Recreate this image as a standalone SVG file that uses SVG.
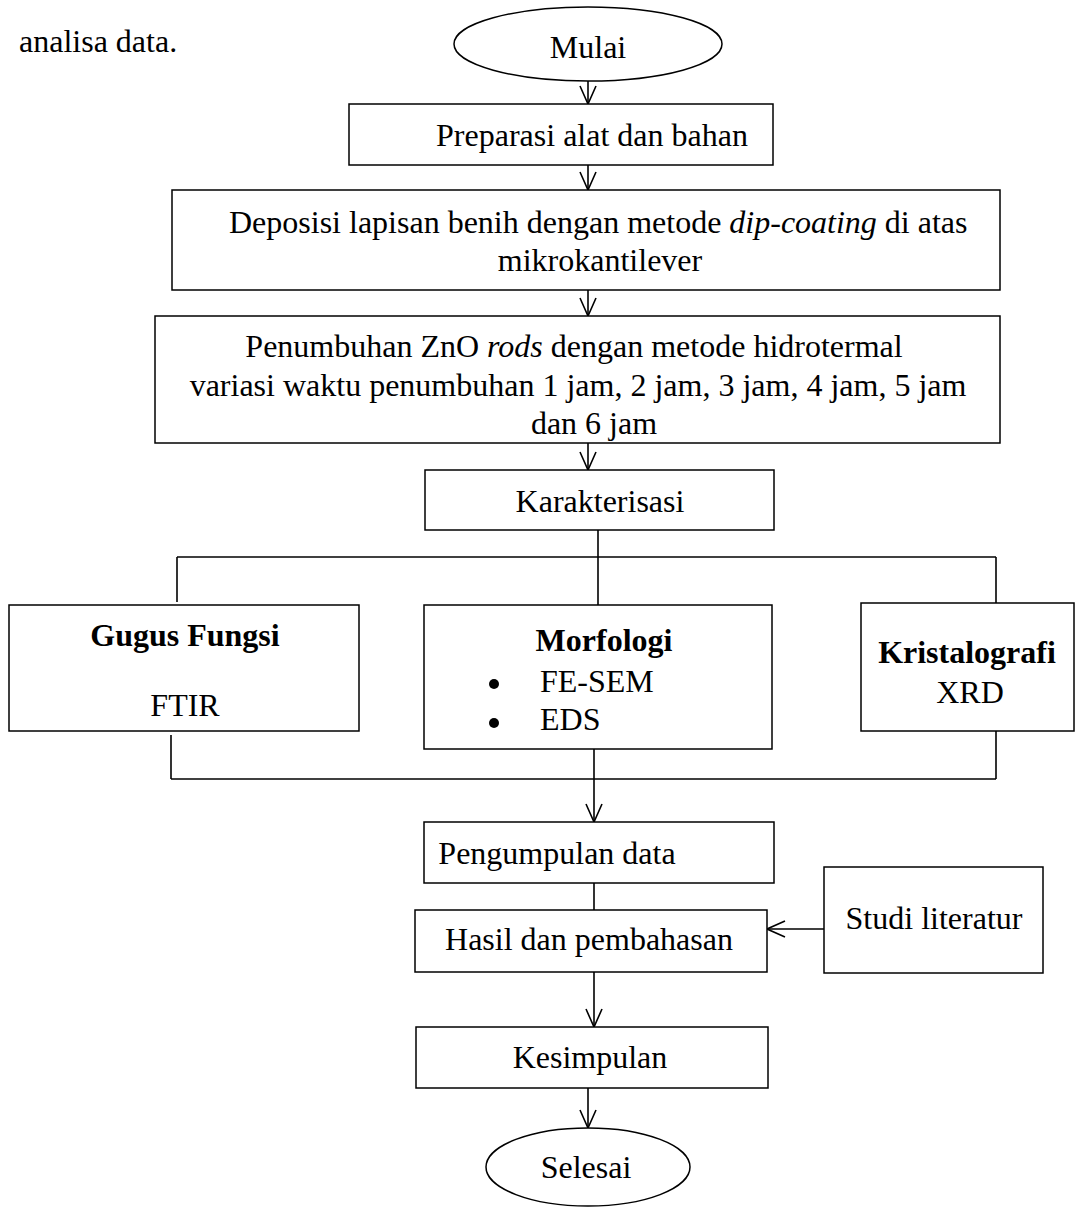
<svg xmlns="http://www.w3.org/2000/svg" width="1080" height="1207" viewBox="0 0 1080 1207">
  <defs>
    <style>
      .box { fill: #ffffff; stroke: #000000; stroke-width: 1.5; }
      .line { fill: none; stroke: #000000; stroke-width: 1.6; }
      text { font-family: "Liberation Serif", "Times New Roman", serif; font-size: 32px; fill: #000000; }
      .c { text-anchor: middle; }
      .b { font-weight: bold; }
      .i { font-style: italic; }
    </style>
    <marker id="open-arrow" viewBox="0 0 20 20" refX="19" refY="10" markerWidth="20" markerHeight="20" markerUnits="userSpaceOnUse" orient="auto">
      <path d="M1,2 L19,10 L1,18" fill="none" stroke="#000000" stroke-width="1.6"/>
    </marker>
  </defs>
  <rect width="1080" height="1207" fill="#ffffff"/>

  <text x="19" y="52">analisa data.</text>

  <g id="connectors">
    <line class="line" x1="588" y1="81" x2="588" y2="104" marker-end="url(#open-arrow)"/>
    <line class="line" x1="588" y1="165" x2="588" y2="190" marker-end="url(#open-arrow)"/>
    <line class="line" x1="588" y1="290" x2="588" y2="316" marker-end="url(#open-arrow)"/>
    <line class="line" x1="588" y1="443" x2="588" y2="470" marker-end="url(#open-arrow)"/>
    <!-- split to the three characterisation methods -->
    <line class="line" x1="598" y1="530" x2="598" y2="605"/>
    <line class="line" x1="177" y1="557" x2="996" y2="557"/>
    <line class="line" x1="177" y1="557" x2="177" y2="602"/>
    <line class="line" x1="996" y1="557" x2="996" y2="603"/>
    <!-- merge back -->
    <line class="line" x1="171" y1="735" x2="171" y2="779"/>
    <line class="line" x1="171" y1="779" x2="996" y2="779"/>
    <line class="line" x1="996" y1="731" x2="996" y2="779"/>
    <line class="line" x1="594" y1="749" x2="594" y2="822" marker-end="url(#open-arrow)"/>
    <line class="line" x1="594" y1="883" x2="594" y2="910"/>
    <line class="line" x1="824" y1="929" x2="767" y2="929" marker-end="url(#open-arrow)"/>
    <line class="line" x1="594" y1="972" x2="594" y2="1027" marker-end="url(#open-arrow)"/>
    <line class="line" x1="588" y1="1088" x2="588" y2="1128" marker-end="url(#open-arrow)"/>
  </g>

  <g id="mulai">
    <ellipse class="box" cx="588" cy="44" rx="134" ry="37"/>
    <text class="c" x="588" y="58">Mulai</text>
  </g>

  <g id="preparasi">
    <rect class="box" x="349" y="104" width="424" height="61"/>
    <text class="c" x="592" y="146">Preparasi alat dan bahan</text>
  </g>

  <g id="deposisi">
    <rect class="box" x="172" y="190" width="828" height="100"/>
    <text x="229" y="233">Deposisi lapisan benih dengan metode <tspan class="i">dip-coating</tspan>  di atas</text>
    <text class="c" x="600" y="271">mikrokantilever</text>
  </g>

  <g id="penumbuhan">
    <rect class="box" x="155" y="316" width="845" height="127"/>
    <text class="c" x="574" y="357">Penumbuhan ZnO <tspan class="i">rods</tspan> dengan metode hidrotermal</text>
    <text class="c" x="578" y="396">variasi waktu penumbuhan 1 jam, 2 jam, 3 jam, 4 jam, 5 jam</text>
    <text class="c" x="594" y="434">dan 6 jam</text>
  </g>

  <g id="karakterisasi">
    <rect class="box" x="425" y="470" width="349" height="60"/>
    <text class="c" x="600" y="512">Karakterisasi</text>
  </g>

  <g id="gugus-fungsi">
    <rect class="box" x="9" y="605" width="350" height="126"/>
    <text class="c" x="185" y="716">FTIR</text>
    <text class="c b" x="185" y="646">Gugus Fungsi</text>
  </g>

  <g id="morfologi">
    <rect class="box" x="424" y="605" width="348" height="144"/>
    <text class="c b" x="604" y="651">Morfologi</text>
    <circle cx="494" cy="684" r="5"/>
    <text x="540" y="692">FE-SEM</text>
    <circle cx="494" cy="723" r="5"/>
    <text x="540" y="730">EDS</text>
  </g>

  <g id="kristalografi">
    <rect class="box" x="861" y="603" width="213" height="128"/>
    <text class="c b" x="967" y="663">Kristalografi</text>
    <text class="c" x="970" y="703">XRD</text>
  </g>

  <g id="pengumpulan">
    <rect class="box" x="424" y="822" width="350" height="61"/>
    <text class="c" x="557" y="864">Pengumpulan data</text>
  </g>

  <g id="hasil">
    <rect class="box" x="415" y="910" width="352" height="62"/>
    <text class="c" x="589" y="950">Hasil dan pembahasan</text>
  </g>

  <g id="studi-literatur">
    <rect class="box" x="824" y="867" width="219" height="106"/>
    <text class="c" x="934" y="929">Studi literatur</text>
  </g>

  <g id="kesimpulan">
    <rect class="box" x="416" y="1027" width="352" height="61"/>
    <text class="c" x="590" y="1068">Kesimpulan</text>
  </g>

  <g id="selesai">
    <ellipse class="box" cx="588" cy="1167" rx="102" ry="39"/>
    <text class="c" x="586" y="1178">Selesai</text>
  </g>
</svg>
